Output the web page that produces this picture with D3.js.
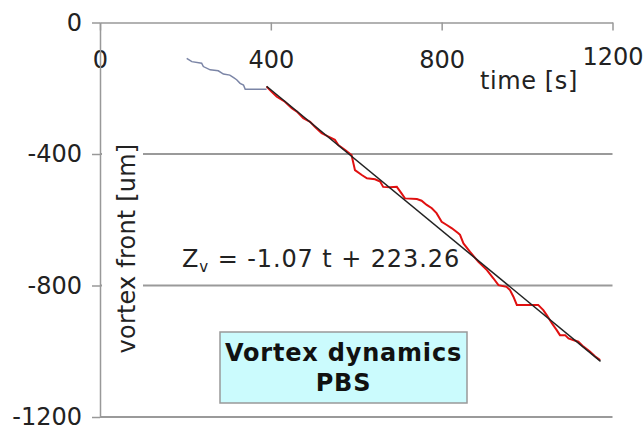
<!DOCTYPE html>
<html>
<head>
<meta charset="utf-8">
<script src="https://cdn.jsdelivr.net/npm/d3@7"></script>
<style>
	body { margin: 0; background: #fff; }
	svg text { font-family: "DejaVu Sans", Verdana, sans-serif; fill: #222; }
	.axis path, .axis line { stroke: #999; stroke-width: 1.5; }
	.axis text { font-size: 24px; fill: #222; }
</style>
</head>
<body>
<svg id="chart"></svg>
<script>
// ticks
let xTicks = [0, 400, 800, 1200];
let yTicks = [0, -400, -800, -1200];
let gridTicks = [-400, -800, -1200];

// early front positions (blue trace)
let earlyTime = [203, 215, 238, 242, 258, 277, 289, 304, 312, 320, 328, 336, 340, 390];
let earlyFront = [-109, -119, -124, -134, -144, -147, -157, -160, -167, -174, -185, -190, -203, -203];

// fitted part (red trace)
let fitTime = [390, 402, 414, 433, 449, 461, 476, 492, 503, 519, 535, 550, 558, 574, 589,
	597, 613, 625, 644, 656, 663, 679, 695, 706, 714, 742, 753, 765, 777, 788, 800,
	812, 824, 839, 843, 851, 866, 886, 906, 921, 933, 952, 960, 968, 976, 1026,
	1038, 1046, 1058, 1069, 1077, 1089, 1097, 1108, 1120, 1132, 1147, 1159, 1171];
let fitFront = [-195, -211, -226, -241, -261, -271, -291, -302, -317, -337, -347, -357, -373, -388, -403,
	-449, -464, -474, -477, -484, -500, -501, -500, -520, -535, -537, -542, -555, -565, -580, -606,
	-616, -626, -641, -646, -672, -697, -728, -753, -778, -799, -804, -814, -834, -859, -859,
	-875, -890, -915, -935, -951, -951, -961, -966, -971, -986, -1001, -1015, -1027];

// linear fit Zv = slope*t + intercept
let slope = -1.07;
let intercept = 223.26;
let fitRange = [390, 1172];

let w = 643, h = 428;
let chart, xScale, yScale;

window.onload = function () {
	makeChart();
}

function makeChart() {
	chart = d3.select('#chart')
		.attr('width', w)
		.attr('height', h);

	xScale = d3.scaleLinear()
		.domain([0, 1200])
		.range([100, 612.5]);

	yScale = d3.scaleLinear()
		.domain([0, -1200])
		.range([22.5, 417]);

	// gridlines
	chart.selectAll('.grid')
		.data(gridTicks)
		.enter()
		.append('line')
		.attr('class', 'grid')
		.attr('x1', xScale(0))
		.attr('x2', xScale(1200))
		.attr('y1', d => yScale(d))
		.attr('y2', d => yScale(d))
		.style('stroke', '#9a9a9a')
		.style('stroke-width', 2);

	// y axis title, white box hides the grid behind it
	chart.append('rect')
		.attr('x', 102)
		.attr('y', 134)
		.attr('width', 41)
		.attr('height', 228)
		.style('fill', '#fff');

	chart.append('text')
		.attr('transform', 'translate(135,' + 248.5 + ') rotate(-90)')
		.style('text-anchor', 'middle')
		.style('font-size', '24px')
		.style('letter-spacing', '0.2px')
		.text('vortex front [um]');

	// axes (plain hyphen for negatives)
	let xAxis = d3.axisBottom(xScale)
		.tickValues(xTicks)
		.tickSize(8)
		.tickSizeOuter(0)
		.tickPadding(20)
		.tickFormat(d => String(d));

	chart.append('g')
		.attr('class', 'axis')
		.attr('transform', `translate(0, ${yScale(0)})`)
		.call(xAxis);

	let yAxis = d3.axisLeft(yScale)
		.tickValues(yTicks)
		.tickSize(8)
		.tickSizeOuter(0)
		.tickPadding(10)
		.tickFormat(d => String(d));

	chart.append('g')
		.attr('class', 'axis')
		.attr('transform', `translate(${xScale(0)},0)`)
		.call(yAxis);

	// "1200" sits a little higher
	chart.selectAll('.axis text')
		.filter(d => d === 1200)
		.attr('y', 25);

	chart.append('text')
		.attr('x', 480)
		.attr('y', 89)
		.style('font-size', '24px')
		.style('letter-spacing', '0.6px')
		.text('time [s]');

	// data lines
	let line = d3.line()
		.x(d => xScale(d[0]))
		.y(d => yScale(d[1]));

	chart.append('path')
		.datum(d3.zip(earlyTime, earlyFront))
		.attr('d', line)
		.style('fill', 'none')
		.style('stroke', '#7b85a6')
		.style('stroke-width', 1.5);

	chart.append('path')
		.datum(d3.zip(fitTime, fitFront))
		.attr('d', line)
		.style('fill', 'none')
		.style('stroke', '#e01010')
		.style('stroke-width', 2);

	chart.append('path')
		.datum(fitRange.map(t => [t, slope * t + intercept]))
		.attr('d', line)
		.style('fill', 'none')
		.style('stroke', '#222')
		.style('stroke-width', 1.5);

	// equation
	let eq = chart.append('text')
		.attr('x', 182)
		.attr('y', 267)
		.style('font-size', '24px')
		.style('letter-spacing', '0.9px');
	eq.append('tspan').text('Z');
	eq.append('tspan').attr('dy', 5).style('font-size', '15px').text('v');
	eq.append('tspan').attr('dy', -5).text(' = -1.07 t + 223.26');

	// title box
	chart.append('rect')
		.attr('x', 220)
		.attr('y', 332)
		.attr('width', 247)
		.attr('height', 71)
		.style('fill', '#cbfbfd')
		.style('stroke', '#999')
		.style('stroke-width', 1.5);

	chart.append('text')
		.attr('x', 343.5)
		.attr('y', 361)
		.style('text-anchor', 'middle')
		.style('font-size', '24px')
		.style('font-weight', 'bold')
		.style('letter-spacing', '0.8px')
		.style('fill', '#111')
		.text('Vortex dynamics');

	chart.append('text')
		.attr('x', 343.5)
		.attr('y', 391)
		.style('text-anchor', 'middle')
		.style('font-size', '24px')
		.style('font-weight', 'bold')
		.style('letter-spacing', '0.8px')
		.style('fill', '#111')
		.text('PBS');
}
</script>
</body>
</html>
